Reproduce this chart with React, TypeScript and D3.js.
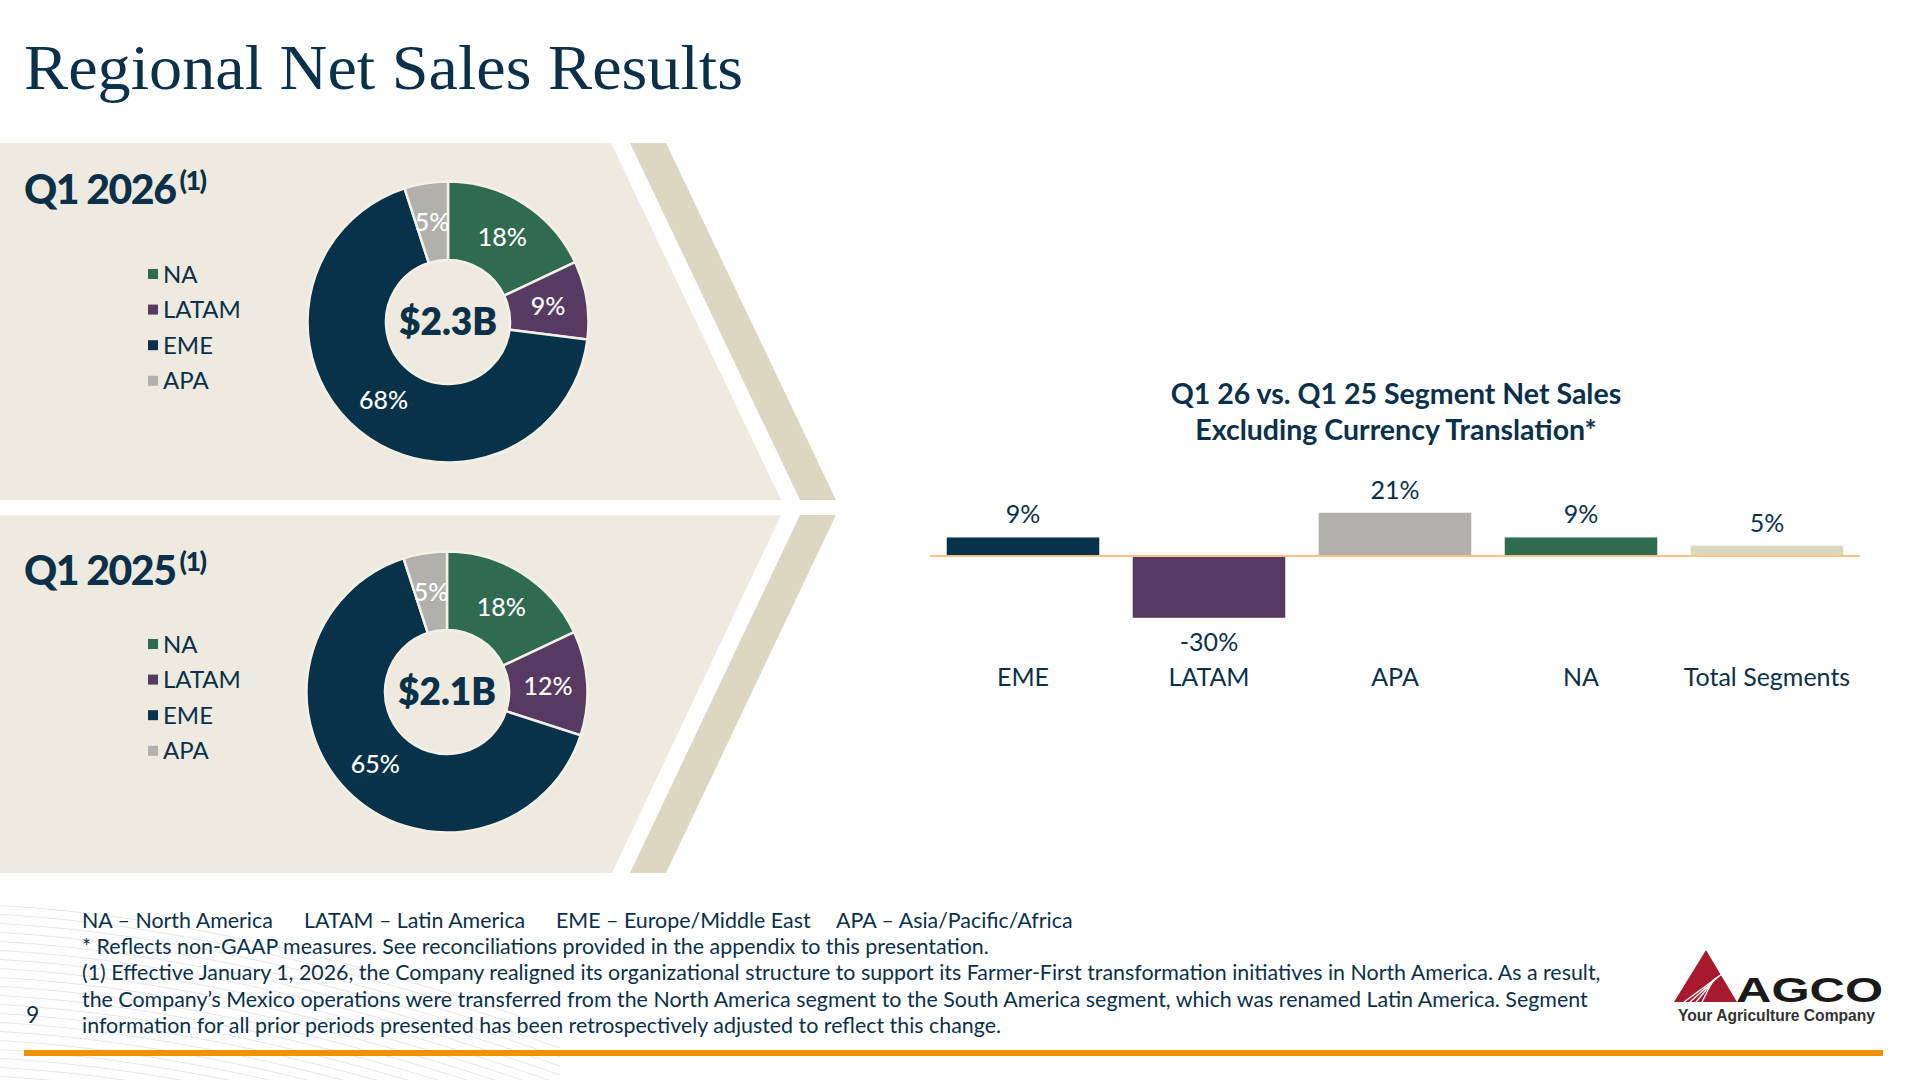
import * as d3 from "d3";
import React from "react";

// donut data
const regions = ["NA", "LATAM", "EME", "APA"];
const share2026 = [18, 9, 68, 5];
const share2025 = [18, 12, 65, 5];
const periods = ["Q1 2026", "Q1 2025"];
const totals = ["$2.3B", "$2.1B"];

// bar data
const segments = ["EME", "LATAM", "APA", "NA", "Total Segments"];
const growth = [9, -30, 21, 9, 5];

const footerAbbrev = [
  "NA – North America",
  "LATAM – Latin America",
  "EME – Europe/Middle East",
  "APA – Asia/Pacific/Africa",
];
const footerLines = [
  "* Reflects non-GAAP measures. See reconciliations provided in the appendix to this presentation.",
  "(1) Effective January 1, 2026, the Company realigned its organizational structure to support its Farmer-First transformation initiatives in North America. As a result,",
  "the Company’s Mexico operations were transferred from the North America segment to the South America segment, which was renamed Latin America. Segment",
  "information for all prior periods presented has been retrospectively adjusted to reflect this change.",
];

const NAVY = "#0a3149";
const regionColor: Record<string, string> = {
  NA: "#2f6b4f",
  LATAM: "#573a61",
  EME: "#08324a",
  APA: "#b1b0ac",
  "Total Segments": "#ddd7c2",
};
const SANS = "Lato, 'Noto Sans', sans-serif";

function Donut({ values, cx, cy, total }: { values: number[]; cx: number; cy: number; total: string }) {
  const pie = d3.pie<number>().sort(null).value((d) => d);
  const arc = d3.arc<d3.PieArcDatum<number>>().innerRadius(62).outerRadius(140.5);
  const arcs = pie(values);
  return (
    <g transform={`translate(${cx},${cy})`}>
      {arcs.map((a, i) => (
        <path key={i} d={arc(a) || ""} fill={regionColor[regions[i]]} stroke="#f3f0e6" strokeWidth={2.5} />
      ))}
      {arcs.map((a, i) => {
        const [x, y] = arc.centroid(a);
        return (
          <text key={"l" + i} x={x} y={y} dy="0.36em" textAnchor="middle" fill="#fff"
            fontFamily={SANS} fontSize={25} fontWeight={500}>
            {values[i]}%
          </text>
        );
      })}
      <text x={0} y={0} dy="0.36em" textAnchor="middle" fill={NAVY} fontFamily={SANS} fontSize={37} fontWeight={800}>
        {total}
      </text>
    </g>
  );
}

function Legend({ y0 }: { y0: number }) {
  return (
    <g>
      {regions.map((r, i) => (
        <g key={r} transform={`translate(148,${y0 + i * 35.6})`}>
          <rect x={0} y={-5} width={10} height={10} fill={regionColor[r]} />
          <text x={15} y={0} dy="0.36em" fill={NAVY} fontFamily={SANS} fontSize={24}>{r}</text>
        </g>
      ))}
    </g>
  );
}

function BarChart() {
  const x = d3.scaleBand().domain(segments).range([930, 1860]).paddingInner(0.18).paddingOuter(0.09);
  const y = d3.scaleLinear().domain([-40, 30]).range([556 + 82.4, 556 - 61.8]);
  return (
    <g>
      <text x={1396} y={404} textAnchor="middle" fill={NAVY} fontFamily={SANS} fontSize={28.5} fontWeight={700}>
        Q1 26 vs. Q1 25 Segment Net Sales
      </text>
      <text x={1396} y={440} textAnchor="middle" fill={NAVY} fontFamily={SANS} fontSize={28.5} fontWeight={700}>
        Excluding Currency Translation*
      </text>
      {segments.map((s, i) => {
        const v = growth[i];
        const top = y(Math.max(0, v));
        const h = Math.abs(y(v) - y(0));
        const cx = (x(s) as number) + x.bandwidth() / 2;
        return (
          <g key={s}>
            <rect x={x(s)} y={top} width={x.bandwidth()} height={h} fill={regionColor[s]} />
            <text x={cx} y={v >= 0 ? y(v) - 14 : y(v) + 33} textAnchor="middle" fill={NAVY}
              fontFamily={SANS} fontSize={25}>
              {v}%
            </text>
            <text x={cx} y={686} textAnchor="middle" fill={NAVY} fontFamily={SANS} fontSize={25}>{s}</text>
          </g>
        );
      })}
      <line x1={930} x2={1860} y1={y(0)} y2={y(0)} stroke="#f7c383" strokeWidth={2} />
    </g>
  );
}

function Logo() {
  return (
    <g>
      <path d="M1706,950 L1737,1002 L1674,1002 Z" fill="#a6192e" />
      {[0, 1, 2, 3].map((i) => (
        <line key={i} x1={1722 - i * 3} y1={974 + i * 2} x2={1684 + i * 6} y2={1002} stroke="#fff" strokeWidth={1.4} />
      ))}
      <text x={1736} y={1002} fill="#1a1a1a" fontFamily="'Liberation Sans', Arial, sans-serif" fontSize={35}
        fontWeight={900} textLength={147} lengthAdjust="spacingAndGlyphs">AGCO</text>
      <text x={1678} y={1021} fill="#333" fontFamily="'Liberation Sans Narrow', 'Liberation Sans', sans-serif" fontSize={17}
        fontWeight={700} textLength={197} lengthAdjust="spacingAndGlyphs">Your Agriculture Company</text>
    </g>
  );
}

export default function App() {
  const waves = d3.range(22).map((i) => {
    const y0 = 905 + i * 9;
    return `M-10,${y0} C150,${y0 + 8} 330,${y0 + 45} 560,${y0 + 125}`;
  });
  const abbrevX = [82, 304, 556, 836];
  return (
    <svg width={1920} height={1080} style={{ position: "absolute", left: 0, top: 0, background: "#fff" }}>
      <rect width={1920} height={1080} fill="#fff" />
      <g fill="none" stroke="#e6e6e6" strokeWidth={1}>
        {waves.map((d, i) => <path key={i} d={d} />)}
      </g>
      <text x={24} y={89} fill={NAVY} fontFamily="'Liberation Serif', serif" fontSize={64}
        textLength={719} lengthAdjust="spacingAndGlyphs">Regional Net Sales Results</text>

      {/* panels */}
      <path d="M0,143 L611,143 L781,500 L0,500 Z" fill="#eeeadf" />
      <path d="M630,143 L666,143 L836,500 L800,500 Z" fill="#ddd7c2" />
      <path d="M0,515 L781,515 L612,873 L0,873 Z" fill="#eeeadf" />
      <path d="M800,515 L836,515 L666,873 L630,873 Z" fill="#ddd7c2" />

      {periods.map((p, i) => (
        <text key={p} x={24} y={i === 0 ? 204 : 585} fill={NAVY} fontFamily={SANS} fontSize={41} fontWeight={900}
          letterSpacing={-1.5}>
          {p}
          <tspan fontSize={27} dy={-14} dx={4}>(1)</tspan>
        </text>
      ))}
      <Legend y0={274} />
      <Legend y0={644} />
      <Donut values={share2026} cx={448} cy={322} total={totals[0]} />
      <Donut values={share2025} cx={447} cy={692} total={totals[1]} />

      <BarChart />

      {/* footer */}
      <g fill={NAVY} fontFamily={SANS} fontSize={21.4}>
        {footerAbbrev.map((t, i) => (
          <text key={t} x={abbrevX[i]} y={928}>{t}</text>
        ))}
        {footerLines.map((t, i) => (
          <text key={i} x={82} y={954 + i * 26.3}>{t}</text>
        ))}
        <text x={26} y={1023} fontSize={23}>9</text>
      </g>
      <rect x={24} y={1050} width={1859} height={6} fill="#f39200" />
      <Logo />
    </svg>
  );
}
